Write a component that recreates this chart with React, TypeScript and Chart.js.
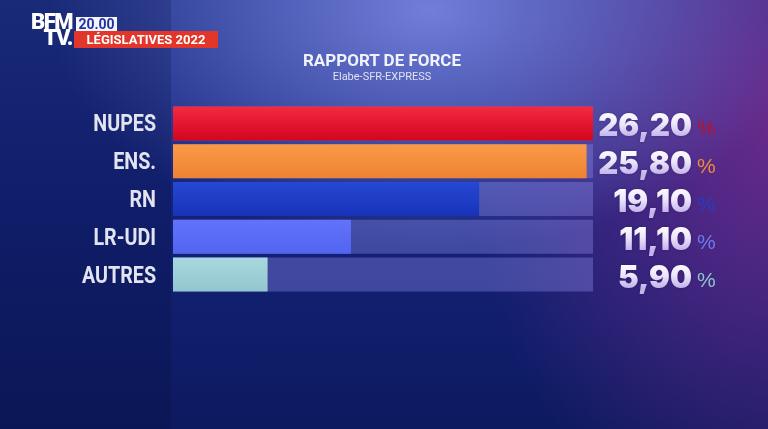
import React, { useEffect, useRef } from "react";
import { Chart, registerables } from "chart.js";

Chart.register(...registerables);

const categories = ["NUPES", "ENS.", "RN", "LR-UDI", "AUTRES"];
const values = [26.2, 25.8, 19.1, 11.1, 5.9];
const valueLabels = ["26,20", "25,80", "19,10", "11,10", "5,90"];
const trackValues = [26.2, 26.2, 26.2, 26.2, 26.2];
const barTopColors = ["#f42a40", "#f99a48", "#2648d4", "#6272fa", "#a8d8de"];
const barBottomColors = ["#d2061f", "#ee8232", "#1832b8", "#5264f0", "#92c6ce"];
const percentColors = ["#b8132c", "#f08a3a", "#2a3cc0", "#6c7af0", "#8ec4cc"];
const titleText = "RAPPORT DE FORCE";
const subtitleText = "Elabe-SFR-EXPRESS";
const channelTop = "BFM";
const channelBottom = "TV.";
const timeBadge = "20.00";
const showBadge = "LÉGISLATIVES 2022";

const labelPlugin = {
  id: "sideLabels",
  afterDatasetsDraw(chart: any) {
    const { ctx, chartArea } = chart;
    const yScale = chart.scales.y;
    const numRight = chartArea.right + 99;
    const labRight = chartArea.left - 17;
    ctx.save();
    categories.forEach((name, i) => {
      const cy = yScale.getPixelForValue(i);
      ctx.save();
      ctx.font = "700 24px Roboto, 'Liberation Sans', sans-serif";
      ctx.textAlign = "right";
      ctx.textBaseline = "alphabetic";
      ctx.fillStyle = "#e2e4f2";
      ctx.translate(labRight, cy + 8);
      ctx.scale(0.82, 1);
      ctx.fillText(name, 0, 0);
      ctx.restore();

      const base = cy + 13;
      ctx.font = "900 31px Inter, Roboto, 'DejaVu Sans', sans-serif";
      ctx.textAlign = "right";
      ctx.textBaseline = "alphabetic";
      const g = ctx.createLinearGradient(0, cy - 12, 0, cy + 13);
      g.addColorStop(0, "#ffffff");
      g.addColorStop(0.5, "#ece6fb");
      g.addColorStop(1, "#c4b3ec");
      ctx.fillStyle = g;
      ctx.shadowColor = "rgba(20,10,60,0.35)";
      ctx.shadowBlur = 3;
      ctx.fillText(valueLabels[i], numRight, base);
      ctx.shadowBlur = 0;
      ctx.font = "400 21px 'Liberation Sans', Arial, sans-serif";
      ctx.textAlign = "left";
      ctx.fillStyle = percentColors[i];
      ctx.fillText("%", numRight + 5, base - 1);
    });
    ctx.restore();
  },
};

function barFill(context: any) {
  const chart = context.chart;
  const i = context.dataIndex;
  const yScale = chart.scales?.y;
  if (!chart.chartArea || !yScale || i === undefined) return barTopColors[i ?? 0];
  const cy = yScale.getPixelForValue(i);
  const g = chart.ctx.createLinearGradient(0, cy - 17, 0, cy + 17);
  g.addColorStop(0, barTopColors[i]);
  g.addColorStop(1, barBottomColors[i]);
  return g;
}

export default function App() {
  const ref = useRef<HTMLCanvasElement | null>(null);

  useEffect(() => {
    if (!ref.current) return;
    const chart = new Chart(ref.current, {
      type: "bar",
      data: {
        labels: categories,
        datasets: [
          {
            label: "value",
            data: values,
            backgroundColor: barFill,
            borderWidth: 0,
            grouped: false,
            order: 1,
            barPercentage: 0.9,
            categoryPercentage: 1,
          } as any,
          {
            label: "track",
            data: trackValues,
            backgroundColor: "rgba(140,140,235,0.38)",
            borderWidth: 0,
            grouped: false,
            order: 2,
            barPercentage: 0.9,
            categoryPercentage: 1,
          } as any,
        ],
      },
      options: {
        indexAxis: "y",
        responsive: false,
        animation: false,
        layout: { padding: { left: 0, right: 175, top: 104.5, bottom: 135.5 } },
        plugins: {
          legend: { display: false },
          tooltip: { enabled: false },
          title: { display: false },
        },
        scales: {
          x: { display: false, min: 0, max: 26.2 },
          y: {
            afterFit: (s: any) => {
              s.width = 173;
            },
            grid: { display: false, drawTicks: false },
            border: { display: false },
            ticks: { display: false },
          },
        },
      },
      plugins: [labelPlugin],
    });
    return () => chart.destroy();
  }, []);

  return (
    <div
      style={{
        position: "fixed",
        left: 0,
        top: 0,
        width: 768,
        height: 429,
        overflow: "hidden",
        background:
          "radial-gradient(ellipse 380px 240px at 430px 10px, rgba(118,130,222,0.95), rgba(118,130,222,0) 100%)," +
          "radial-gradient(ellipse 330px 430px at 790px 120px, rgba(112,42,140,0.95), rgba(112,42,140,0) 100%)," +
          "linear-gradient(180deg, #1e3188 0%, #14237a 45%, #0d1a60 100%)",
        fontFamily: "Roboto, 'Liberation Sans', Arial, sans-serif",
      }}
    >
      <div
        style={{
          position: "absolute",
          left: 0,
          top: 0,
          width: 171,
          height: 429,
          background: "linear-gradient(180deg, rgba(5,15,60,0.2), rgba(5,15,60,0.3))",
        }}
      />
      <canvas ref={ref} width={768} height={429} style={{ position: "absolute", left: 0, top: 0 }} />
      <div
        style={{
          position: "absolute",
          left: 20,
          top: 14,
          color: "#fff",
          fontWeight: 900,
          fontSize: 22,
          lineHeight: "16px",
          letterSpacing: -1.5,
          fontFamily: "Roboto, 'Liberation Sans', Arial, sans-serif",
          textAlign: "right",
          width: 52,
        }}
      >
        <div>{channelTop}</div>
        <div>{channelBottom}</div>
      </div>
      <div
        style={{
          position: "absolute",
          left: 76,
          top: 17,
          width: 41,
          height: 14,
          background: "#f4f5fb",
          color: "#2233a0",
          fontWeight: 700,
          fontSize: 14,
          lineHeight: "14px",
          textAlign: "center",
        }}
      >
        {timeBadge}
      </div>
      <div
        style={{
          position: "absolute",
          left: 74,
          top: 31,
          width: 144,
          height: 17,
          background: "#e2362a",
          color: "#fff",
          fontWeight: 700,
          fontSize: 13,
          lineHeight: "17px",
          textAlign: "center",
        }}
      >
        {showBadge}
      </div>
      <div
        style={{
          position: "absolute",
          left: 0,
          width: 764,
          top: 50,
          textAlign: "center",
          color: "#f2f3fa",
          fontWeight: 700,
          fontSize: 17,
          lineHeight: "20px",
        }}
      >
        {titleText}
      </div>
      <div
        style={{
          position: "absolute",
          left: 0,
          width: 764,
          top: 70,
          textAlign: "center",
          color: "#e0e2f2",
          fontSize: 11,
          lineHeight: "14px",
        }}
      >
        {subtitleText}
      </div>
    </div>
  );
}
